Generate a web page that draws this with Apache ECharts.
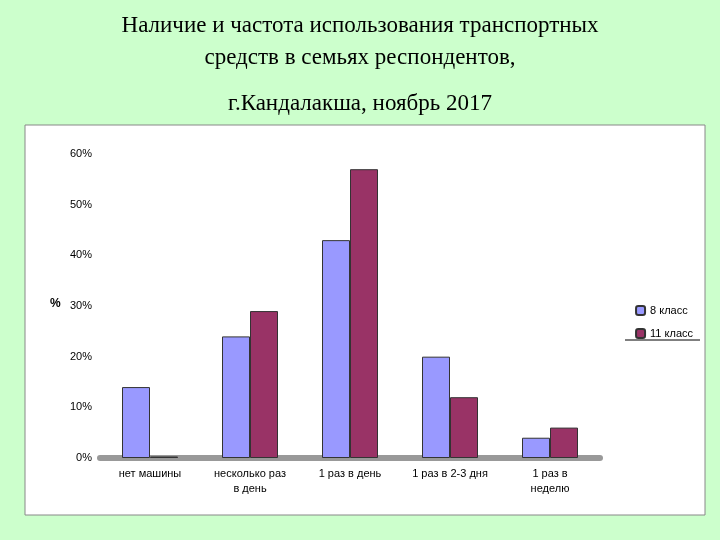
<!DOCTYPE html>
<html><head><meta charset="utf-8">
<script src="https://cdn.jsdelivr.net/npm/echarts@6/dist/echarts.min.js"></script>
<style>html,body{margin:0;padding:0;background:#ccffcc;}#c{width:720px;height:540px;}</style>
</head><body><div id="c"></div>
<script>
const categories = ['нет машины', 'несколько раз\nв день', '1 раз в день', '1 раз в 2-3 дня', '1 раз в\nнеделю'];
const class8 = [14, 24, 43, 20, 4];
const class11 = [0.3, 29, 57, 12, 6];
const yTicks = [0, 10, 20, 30, 40, 50, 60];
const chart = echarts.init(document.getElementById('c'));
chart.setOption({
  backgroundColor: '#ccffcc',
  graphic: [
    {type: 'rect', z: -10, shape: {x: 25, y: 125, width: 680, height: 390}, style: {fill: '#fff', stroke: '#888', lineWidth: 1}},
    {type: 'text', x: 360, y: 14, style: {text: 'Наличие и частота использования транспортных', font: '23px "Liberation Serif"', fill: '#000', align: 'center'}},
    {type: 'text', x: 360, y: 46, style: {text: 'средств в семьях респондентов,', font: '23px "Liberation Serif"', fill: '#000', align: 'center'}},
    {type: 'text', x: 360, y: 92, style: {text: 'г.Кандалакша, ноябрь 2017', font: '23px "Liberation Serif"', fill: '#000', align: 'center'}},
    {type: 'text', left: 50, top: 298, style: {text: '%', font: 'bold 12px "Liberation Sans"', fill: '#000'}},
    {type: 'line', shape: {x1: 625, y1: 340, x2: 700, y2: 340}, style: {stroke: '#000', lineWidth: 1}}
  ],
  grid: {left: 100, right: 120, top: 154, bottom: 82},
  legend: {right: 22, top: 300, orient: 'vertical', itemWidth: 9, itemHeight: 9, itemGap: 12,
    textStyle: {fontFamily: 'Liberation Sans', fontSize: 11, color: '#000'}, data: ['8 класс', '11 класс']},
  xAxis: {type: 'category', data: categories, axisTick: {show: false},
    axisLine: {lineStyle: {color: '#999', width: 6}},
    axisLabel: {fontFamily: 'Liberation Sans', fontSize: 11, color: '#000', interval: 0, lineHeight: 15}},
  yAxis: {type: 'value', min: 0, max: 60, interval: 10, splitLine: {show: false},
    axisLine: {show: false}, axisTick: {show: false},
    axisLabel: {formatter: v => yTicks.includes(v) ? v + '%' : '', fontFamily: 'Liberation Sans', fontSize: 11, color: '#000', margin: 8}},
  series: [
    {name: '8 класс', type: 'bar', data: class8, barWidth: 28, barGap: '0%',
      itemStyle: {color: '#9999ff', borderColor: '#333', borderWidth: 1}},
    {name: '11 класс', type: 'bar', data: class11, barWidth: 28,
      itemStyle: {color: '#993366', borderColor: '#333', borderWidth: 1}}
  ]
});
</script></body></html>
